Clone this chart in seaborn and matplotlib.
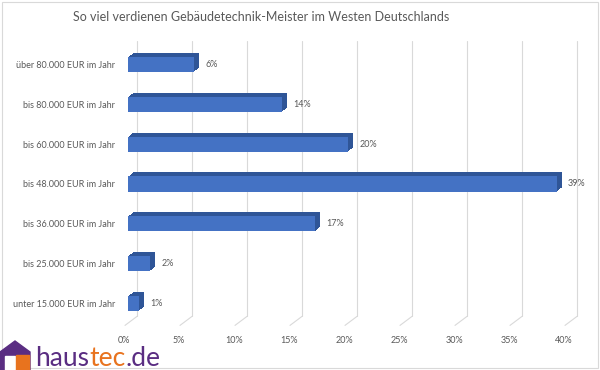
import seaborn as sns
import matplotlib.pyplot as plt
import matplotlib.transforms as mtransforms
from matplotlib.patches import Rectangle, Polygon
from matplotlib.lines import Line2D
import pandas as pd

# salary bands and share of masters (percent)
categories = ['über 80.000 EUR im Jahr', 'bis 80.000 EUR im Jahr', 'bis 60.000 EUR im Jahr',
              'bis 48.000 EUR im Jahr', 'bis 36.000 EUR im Jahr', 'bis 25.000 EUR im Jahr',
              'unter 15.000 EUR im Jahr']
shares = [6, 14, 20, 39, 17, 2, 1]
x_ticks = [0, 5, 10, 15, 20, 25, 30, 35, 40]
title = 'So viel verdienen Gebäudetechnik-Meister im Westen Deutschlands'

df = pd.DataFrame({'band': categories, 'share': shares})

sns.set_theme(style='white')
plt.rcParams['font.family'] = ['Lato', 'DejaVu Sans']

W, H = 600, 370
fig = plt.figure(figsize=(6, 3.7), dpi=100)
ax = fig.add_axes([128 / W, (H - 323.4) / H, 440 / W, 278.8 / H])

front = '#4472C4'
dark = '#2F5597'
grey = '#595959'
ident = mtransforms.IdentityTransform()

sns.barplot(data=df, x='share', y='band', orient='h', color=front, saturation=1,
            width=0.38, linewidth=0, ax=ax, zorder=3)
ax.set_xlim(0, 40)
ax.set_ylim(6.5, -0.5)

# fake 3d depth: stack shifted copies of each bar behind it
for p in list(ax.patches):
    for k in range(1, 6):
        off = mtransforms.ScaledTranslation(k * 0.01, k * 0.008, fig.dpi_scale_trans)
        r = Rectangle(p.get_xy(), p.get_width(), p.get_height(), color=dark,
                      transform=ax.transData + off, zorder=2, lw=0)
        ax.add_patch(r)

# value labels
for p, v in zip(ax.patches[:len(shares)], shares):
    ax.annotate('{}%'.format(v), (v, p.get_y() + p.get_height() / 2), xytext=(8, 0),
                textcoords='offset points', va='center', ha='left', fontsize=6.5, color=grey)

# gridlines in back plane with slanted foot
fig.canvas.draw()
xtr = ax.get_xaxis_transform()
for t in x_ticks:
    xb, yb = xtr.transform((t, 0))
    _, yt = xtr.transform((t, 1))
    fig.add_artist(Line2D([xb + 9, xb + 9], [yb + 7, yt + 4], color='#D9D9D9', lw=0.8,
                          transform=ident, zorder=0))
    fig.add_artist(Line2D([xb + 9, xb - 3], [yb + 7, yb - 2], color='#D9D9D9', lw=0.8,
                          transform=ident, zorder=0))

ax.set_xticks(x_ticks)
ax.set_xticklabels(['{}%'.format(t) for t in x_ticks], fontsize=6.5, color=grey)
ax.tick_params(axis='x', length=0, pad=9)
ax.tick_params(axis='y', length=0, pad=9.5, labelsize=6.5, labelcolor=grey)
for lab in ax.get_xticklabels():
    lab.set_transform(lab.get_transform() + mtransforms.ScaledTranslation(-0.04, 0, fig.dpi_scale_trans))
ax.set_xlabel('')
ax.set_ylabel('')
sns.despine(ax=ax, left=True, bottom=True)
ax.patch.set_alpha(0)

fig.text(261 / W, 1 - 17 / H, title, ha='center', va='center', fontsize=9, color=grey)

# chart border
fig.add_artist(Rectangle((2, 2), 596, 366, fill=False, ec='#D9D9D9', lw=0.8, transform=ident))

# haustec.de logo
purple = '#5A2D82'
orange = '#E8731E'
fig.add_artist(Polygon([(0, 0), (0, 18), (15, 29), (30, 18), (30, 0)], closed=True,
                       color=purple, transform=ident, zorder=5))
fig.add_artist(Rectangle((5, 0), 10, 14, color='white', transform=ident, zorder=6))
fig.add_artist(Rectangle((16, 0), 13, 15, color=orange, transform=ident, zorder=6))
t1 = fig.text(35 / W, 4 / H, 'haus', fontsize=19, color=purple, va='baseline', ha='left')
t2 = ax.annotate('tec', xy=(1, 0), xycoords=t1, va='bottom', ha='left', fontsize=19,
                 color=orange, annotation_clip=False)
t3 = ax.annotate('.de', xy=(1, 0), xycoords=t2, va='bottom', ha='left', fontsize=19,
                 color=purple, annotation_clip=False)

fig.savefig('out.png', dpi=100)
